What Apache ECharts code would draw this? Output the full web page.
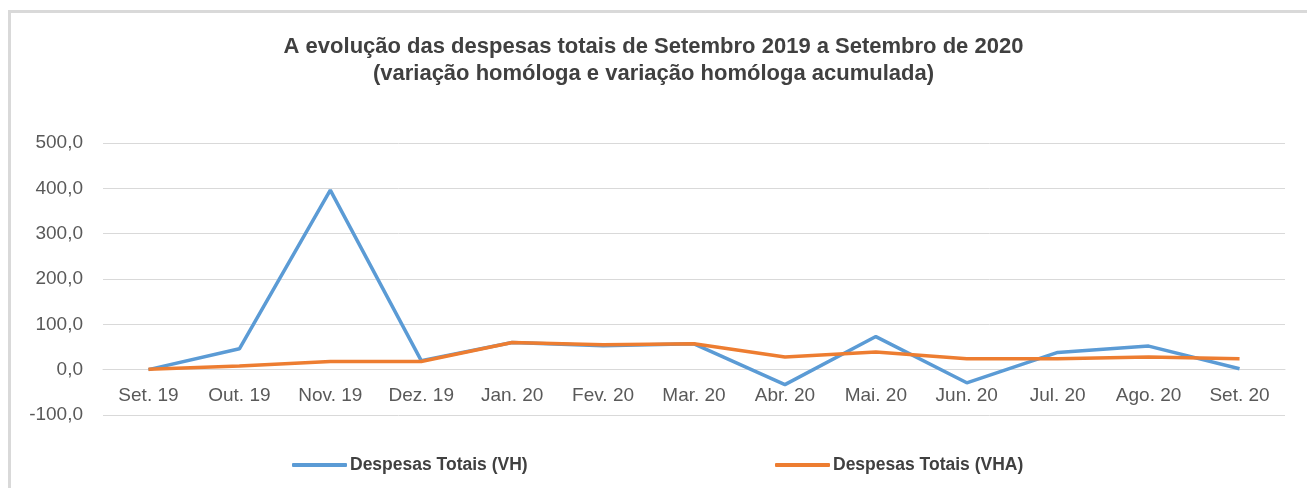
<!DOCTYPE html>
<html>
<head>
<meta charset="utf-8">
<script src="https://cdn.jsdelivr.net/npm/echarts@6/dist/echarts.min.js"></script>
<style>
  html, body { margin: 0; padding: 0; background: #fff; overflow: hidden; }
  #chart { width: 1307px; height: 488px; }
</style>
</head>
<body>
<div id="chart"></div>
<script>
// meses
var categorias = ['Set. 19', 'Out. 19', 'Nov. 19', 'Dez. 19', 'Jan. 20', 'Fev. 20', 'Mar. 20', 'Abr. 20', 'Mai. 20', 'Jun. 20', 'Jul. 20', 'Ago. 20', 'Set. 20'];
// variação homóloga
var despesasVH = [0, 46, 396, 20, 60, 53, 57, -33, 73, -29, 38, 52, 2];
// variação homóloga acumulada
var despesasVHA = [1, 8, 18, 18, 60, 55, 57, 28, 39, 24, 24, 28, 24];
var yTicks = [-100, 0, 100, 200, 300, 400, 500];

var titulo = 'A evolução das despesas totais de Setembro 2019 a Setembro de 2020\n(variação homóloga e variação homóloga acumulada)';

var fonte = '"Liberation Sans Narrow", "Liberation Sans", Arial, sans-serif';

var myChart = echarts.init(document.getElementById('chart'));
var option = {
    animation: false,
    color: ['#5B9BD5', '#ED7D31'],
    // moldura (só topo e esquerda visíveis)
    graphic: [
        { type: 'rect', left: 8, top: 10, shape: { width: 1300, height: 3 }, style: { fill: '#d9d9d9' }, silent: true },
        { type: 'rect', left: 8, top: 10, shape: { width: 3, height: 480 }, style: { fill: '#d9d9d9' }, silent: true }
    ],
    title: {
        text: titulo,
        left: 'center',
        top: 28,
        textStyle: {
            fontFamily: fonte,
            fontSize: 22,
            fontWeight: 'bold',
            color: '#404040',
            lineHeight: 27
        }
    },
    legend: [
        {
            data: ['Despesas Totais (VH)'],
            left: 287,
            top: 451,
            itemWidth: 55,
            itemHeight: 4,
            icon: 'roundRect',
            textStyle: { fontFamily: fonte, fontSize: 17.5, fontWeight: 'bold', color: '#404040', padding: [0, 0, 0, -2] }
        },
        {
            data: ['Despesas Totais (VHA)'],
            left: 770,
            top: 451,
            itemWidth: 55,
            itemHeight: 4,
            icon: 'roundRect',
            textStyle: { fontFamily: fonte, fontSize: 17.5, fontWeight: 'bold', color: '#404040', padding: [0, 0, 0, -2] }
        }
    ],
    grid: {
        left: 103,
        right: 22,
        top: 143,
        bottom: 73,
        containLabel: false
    },
    xAxis: {
        type: 'category',
        data: categorias,
        boundaryGap: true,
        axisLine: { onZero: true, lineStyle: { color: '#d9d9d9', width: 1 } },
        axisTick: { show: false },
        axisLabel: {
            fontFamily: '"Liberation Sans", Arial, sans-serif',
            fontSize: 19,
            color: '#595959',
            margin: -29,
            interval: 0
        }
    },
    yAxis: {
        type: 'value',
        min: yTicks[0],
        max: yTicks[yTicks.length - 1],
        interval: 100,
        axisLine: { show: false },
        axisTick: { show: false },
        splitLine: { lineStyle: { color: '#d9d9d9', width: 1 } },
        axisLabel: {
            fontFamily: '"Liberation Sans", Arial, sans-serif',
            fontSize: 19,
            color: '#595959',
            margin: 20,
            formatter: function (v) {
                return v.toFixed(1).replace('.', ',');
            }
        }
    },
    series: [
        {
            name: 'Despesas Totais (VH)',
            type: 'line',
            data: despesasVH,
            symbol: 'none',
            lineStyle: { width: 3.5 }
        },
        {
            name: 'Despesas Totais (VHA)',
            type: 'line',
            data: despesasVHA,
            symbol: 'none',
            lineStyle: { width: 3.5 }
        }
    ]
};
myChart.setOption(option);
</script>
</body>
</html>
